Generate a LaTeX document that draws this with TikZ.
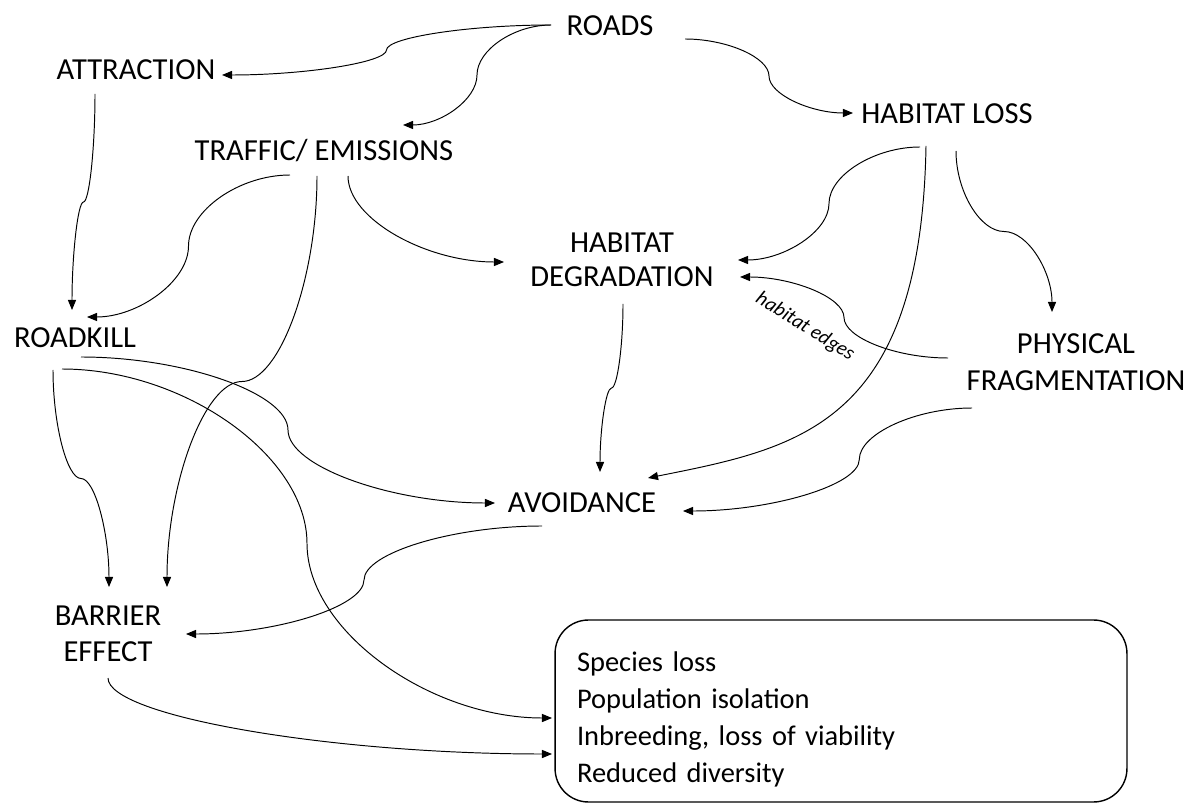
\documentclass[tikz,border=0pt]{standalone}
\usepackage{fontspec}
\setmainfont{Carlito}
\usetikzlibrary{arrows.meta}
\usetikzlibrary{calc}

\begin{document}
\begin{tikzpicture}[x=0.02cm, y=-0.02cm,
  concept/.style={font=\fontsize{17.4}{20}\selectfont, align=center, inner sep=0pt},
  outcome/.style={draw, line width=0.8pt, rounded corners=19pt, font=\fontsize{16.2}{21.1}\selectfont,
    align=left, text width=10.56cm, inner xsep=0.44cm, minimum width=11.44cm, minimum height=3.64cm},
  link/.style={line width=0.55pt, -{Triangle[length=5.7pt,width=4.6pt]}},
  hcurve/.style={to path={let \p1=(\tikztostart), \p2=(\tikztotarget) in
    .. controls ({\x1+#1*(\x2-\x1)/2},\y1) and ({\x1+#1*(\x2-\x1)},{0.75*\y1+0.25*\y2}) .. ({\x1+#1*(\x2-\x1)},{0.5*\y1+0.5*\y2})
    .. controls ({\x1+#1*(\x2-\x1)},{0.25*\y1+0.75*\y2}) and ({\x2-(1-#1)*(\x2-\x1)/2},\y2) .. (\tikztotarget)}},
  hcurve/.default=0.5,
  vcurve/.style={to path={let \p1=(\tikztostart), \p2=(\tikztotarget) in
    .. controls (\x1,{0.75*\y1+0.25*\y2}) and ({0.75*\x1+0.25*\x2},{0.5*\y1+0.5*\y2}) .. ({0.5*\x1+0.5*\x2},{0.5*\y1+0.5*\y2})
    .. controls ({0.25*\x1+0.75*\x2},{0.5*\y1+0.5*\y2}) and (\x2,{0.25*\y1+0.75*\y2}) .. (\tikztotarget)}},
  vhcurve/.style={to path={let \p1=(\tikztostart), \p2=(\tikztotarget) in
    .. controls (\x1,{0.5*\y1+0.5*\y2}) and ({0.5*\x1+0.5*\x2},\y2) .. (\tikztotarget)}}]
\useasboundingbox (0,0) rectangle (1196,810);

% concepts
\node [concept] (roads) at (610,26) {ROADS};
\node [concept] (attraction) at (136,70) {ATTRACTION};
\node [concept] (traffic) at (324,151) {TRAFFIC/ EMISSIONS};
\node [concept] (habloss) at (947,114) {HABITAT LOSS};
\node [concept, font=\fontsize{17.4}{19.3}\selectfont] (habdeg) at (622,260) {HABITAT\\DEGRADATION};
\node [concept] (roadkill) at (75,338) {ROADKILL};
\node [concept, font=\fontsize{17.4}{21}\selectfont] (physfrag) at (1076,362) {PHYSICAL\\FRAGMENTATION};
\node [concept, font=\fontsize{17.4}{20.5}\selectfont] (barrier) at (108,634) {BARRIER\\EFFECT};
\node [concept] (avoidance) at (582,503) {AVOIDANCE};
\node [outcome] (effects) at (841,711) {\rule{0pt}{20.4pt}Species loss\\Population isolation\\Inbreeding, loss of viability\\Reduced diversity};
\node [font=\fontsize{11.5}{13}\selectfont\itshape, rotate=-32, inner sep=0pt] (edgetext) at (805,327) {habitat edges};

% links
\draw[link] ($(roads)+(-59,-1)$) to[hcurve] ($(attraction)+(86,5)$);
\draw[link] ($(roads)+(-59,-1)$) to[hcurve] ($(traffic)+(79,-26)$);
\draw[link] ($(roads)+(75,13)$) to[hcurve] ($(habloss)+(-94,-1)$);
\draw[link] ($(attraction)+(-41,24)$) to[vcurve] ($(roadkill)+(-3,-28)$);
\draw[link] ($(traffic)+(-34,24)$) to[hcurve] ($(roadkill)+(12,-21)$);
\draw[link] ($(traffic)+(-7,25)$) to[vcurve] ($(barrier)+(59,-47)$);
\draw[link] ($(traffic)+(24,25)$) to[vhcurve] ($(habdeg)+(-118,2)$);
\draw[link] ($(habloss)+(-27,33)$) to[hcurve] ($(habdeg)+(116,0)$);
\draw[link] ($(habloss)+(-21,32)$) .. controls +(-5,280) and +(150,-30) .. ($(avoidance)+(66,-25)$);
\draw[link] ($(habloss)+(9,37)$) to[vcurve] ($(physfrag)+(-24,-50)$);
\draw[link] ($(physfrag)+(-128,-4)$) to[hcurve] ($(habdeg)+(118,17)$);
\draw[link] ($(physfrag)+(-104,46)$) to[hcurve=0.39] ($(avoidance)+(101,8)$);
\draw[link] ($(habdeg)+(1,44)$) to[vcurve] ($(avoidance)+(18,-31)$);
\draw[link] ($(roadkill)+(6,19)$) to[hcurve] ($(avoidance)+(-87,0)$);
\draw[link] ($(roadkill)+(-13,31)$) to[hcurve] ($(effects)+(-289,7)$);
\draw[link] ($(roadkill)+(-22,32)$) to[vcurve] ($(barrier)+(1,-47)$);
\draw[link] ($(avoidance)+(-40,23)$) to[hcurve] ($(barrier)+(78,0)$);
\draw[link] ($(barrier)+(0,44)$) to[vhcurve] ($(effects)+(-289,43)$);
\end{tikzpicture}
\end{document}
